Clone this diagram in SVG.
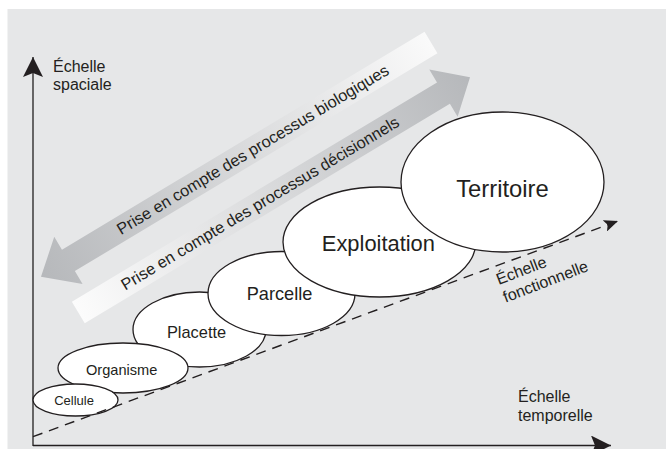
<svg xmlns="http://www.w3.org/2000/svg" width="666" height="449" viewBox="0 0 666 449">
<defs>
<style>
text{font-family:"Liberation Sans",Arial,Helvetica,sans-serif;fill:#231f20}
.node{fill:#ffffff;stroke:#231f20;stroke-width:1.3}
.axis{stroke:#231f20;stroke-width:1.3;fill:none}
.dash{stroke:#231f20;stroke-width:1.4;fill:none;stroke-dasharray:10 7}
.lbl{font-size:16px}
.band{font-size:16.3px}
.nt{text-anchor:middle}
</style>
<marker id="ahBig" markerUnits="userSpaceOnUse" viewBox="0 0 20 20" markerWidth="20" markerHeight="20" refX="20" refY="10" orient="auto">
<path d="M0,0 L20,10 L0,20 L4,10 Z" fill="#231f20"/>
</marker>
<marker id="ahSmall" markerUnits="userSpaceOnUse" viewBox="0 0 14 12" markerWidth="14" markerHeight="12" refX="14" refY="6" orient="auto">
<path d="M0,0 L14,6 L0,12 L3,6 Z" fill="#231f20"/>
</marker>
<linearGradient id="gUp" gradientUnits="userSpaceOnUse" x1="-455" y1="0" x2="0" y2="0">
<stop offset="0" stop-color="#b6b8bb"/>
<stop offset="1" stop-color="#fafafa"/>
</linearGradient>
<linearGradient id="gDown" gradientUnits="userSpaceOnUse" x1="0" y1="0" x2="457" y2="0">
<stop offset="0" stop-color="#fcfcfc"/>
<stop offset="1" stop-color="#b6b8bb"/>
</linearGradient>
</defs>
<rect x="7.5" y="9" width="658.5" height="440" fill="#e6e7e8"/>

<g id="band-biologiques" transform="translate(431,42.5) rotate(-31)">
<path d="M0,-12.5 L-423,-12.5 L-423,-27.5 L-455,0 L-423,27.5 L-423,12.5 L0,12.5 Z" fill="url(#gUp)"/>
<text class="band nt" x="-208" y="5.5">Prise en compte des processus biologiques</text>
</g>
<g id="band-decisionnels" transform="translate(78.3,312.5) rotate(-31)">
<path d="M0,-12.5 L426,-12.5 L426,-27.5 L457,0 L426,27.5 L426,12.5 L0,12.5 Z" fill="url(#gDown)"/>
<text class="band nt" x="212" y="5.5">Prise en compte des processus décisionnels</text>
</g>

<g id="connectors">
<line class="axis" x1="33" y1="446" x2="33" y2="57" marker-end="url(#ahBig)"/>
<line class="axis" x1="33" y1="445.5" x2="611" y2="445.5" marker-end="url(#ahBig)"/>
</g>

<g id="placette"><ellipse class="node" cx="199.5" cy="329.5" rx="66.5" ry="37.5"/><text class="nt" x="196.5" y="337.5" font-size="16.4">Placette</text></g>
<g id="organisme"><ellipse class="node" cx="123" cy="368" rx="65" ry="25"/><text class="nt" x="121.7" y="375" font-size="14.6">Organisme</text></g>
<g id="cellule"><ellipse class="node" cx="75.5" cy="400" rx="42.5" ry="16"/><text class="nt" x="74" y="404.5" font-size="13">Cellule</text></g>
<g id="parcelle"><ellipse class="node" cx="281.5" cy="293.5" rx="73.5" ry="42"/><text class="nt" x="279.5" y="299.5" font-size="18.2">Parcelle</text></g>
<g id="exploitation"><ellipse class="node" cx="379.5" cy="242" rx="96.5" ry="55"/><text class="nt" x="378.4" y="251" font-size="21.9">Exploitation</text></g>
<g id="territoire"><ellipse class="node" cx="502.5" cy="182" rx="101.5" ry="70"/><text class="nt" x="502.5" y="197" font-size="23.8">Territoire</text></g>

<g id="fonctionnelle">
<line class="dash" x1="33" y1="436.7" x2="618" y2="221" marker-end="url(#ahSmall)"/>
</g>

<g id="labels">
<text class="lbl" x="53" y="71.5">Échelle<tspan x="53" y="90">spaciale</tspan></text>
<text class="lbl" x="518" y="401.5">Échelle<tspan x="518" y="421">temporelle</tspan></text>
<text class="lbl" transform="translate(498.7,285) rotate(-21)">Échelle<tspan x="0" y="19">fonctionnelle</tspan></text>
</g>
</svg>
